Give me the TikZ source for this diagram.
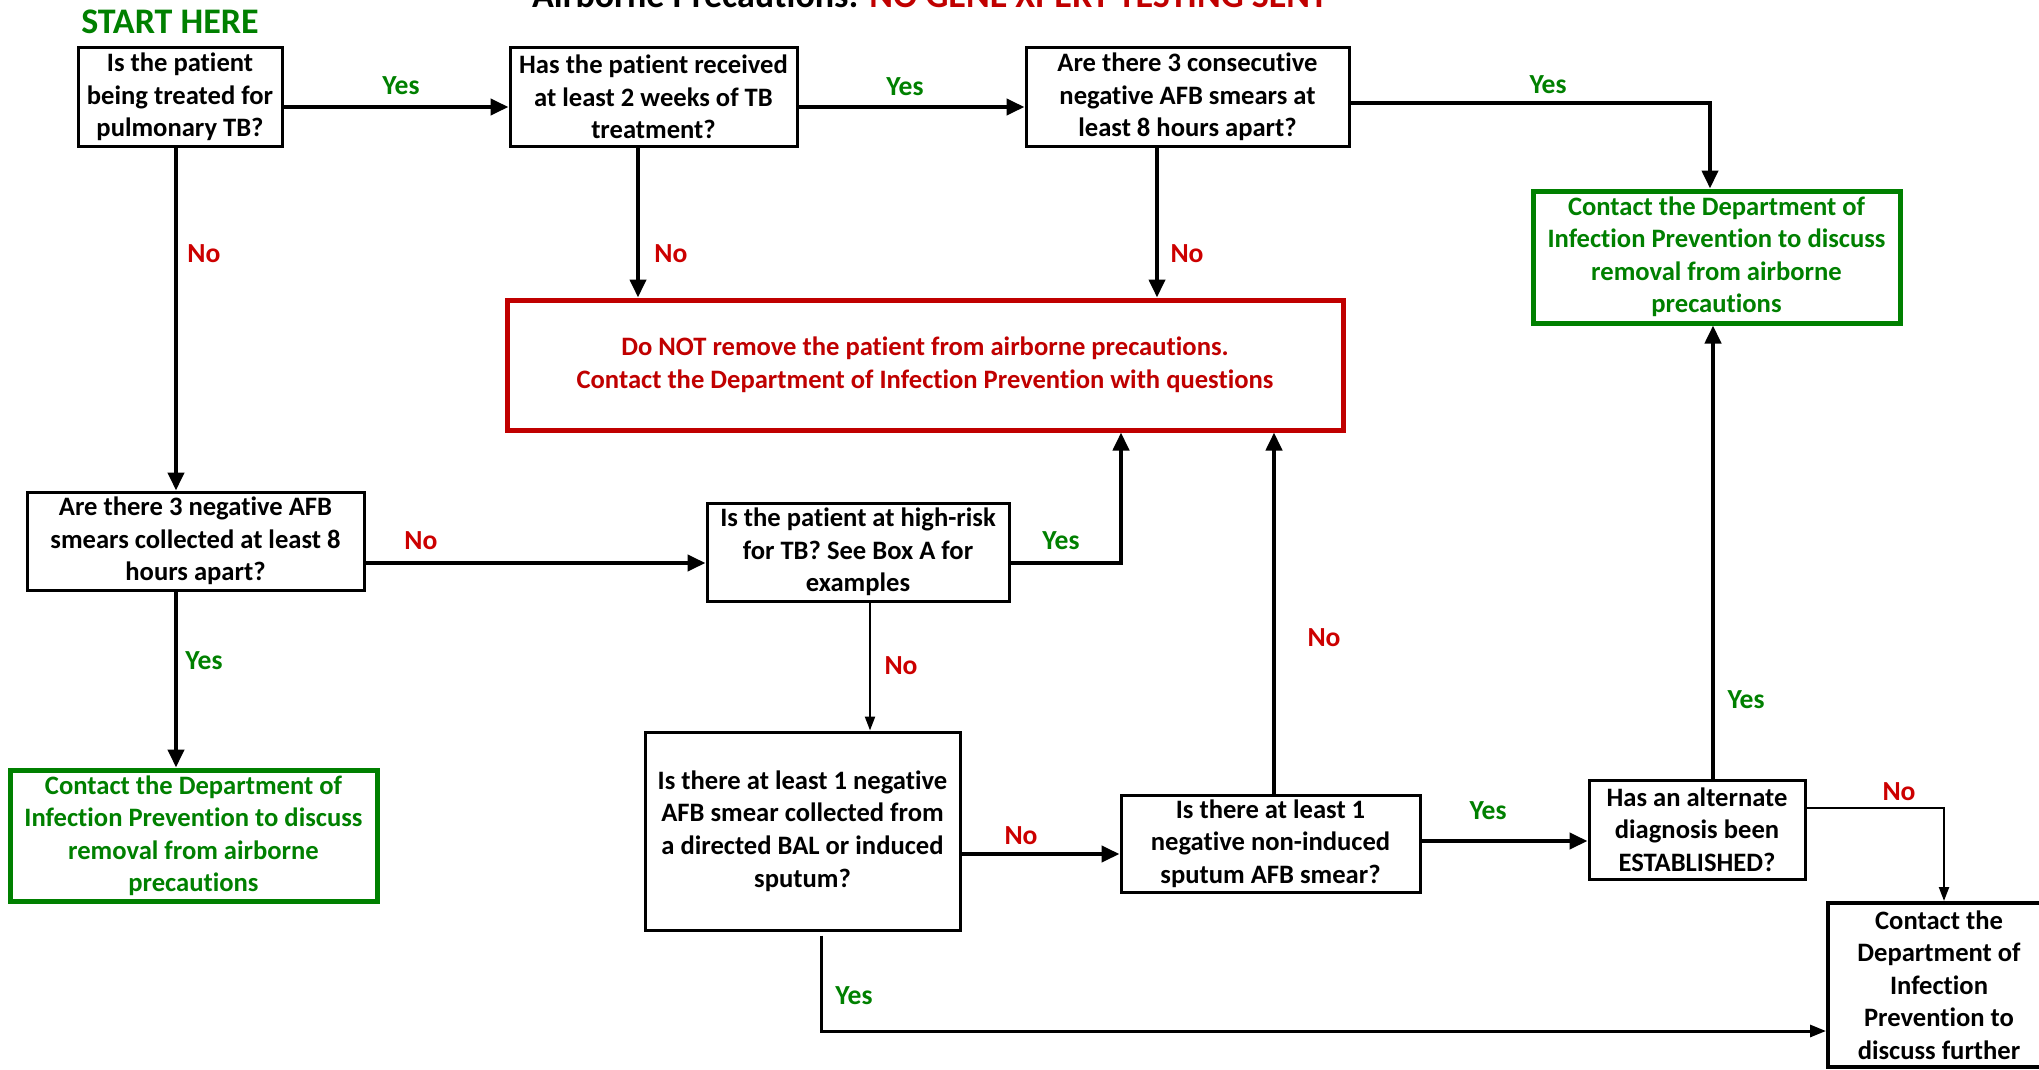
\documentclass[tikz,border=0pt]{standalone}
\usepackage{fontspec}
\setmainfont{Carlito}[Ligatures=NoCommon]
\usetikzlibrary{arrows.meta}
\definecolor{fgreen}{RGB}{0,128,0}
\definecolor{fred}{RGB}{192,0,0}
\definecolor{lred}{RGB}{204,0,0}
\begin{document}
\begin{tikzpicture}[x=0.5pt,y=-0.5pt,
  every node/.style={font=\bfseries\fontsize{13.3}{16.25}\selectfont, align=center, inner sep=0pt},
  qbox/.style={draw=black, line width=1.5pt, fill=white},
  gbox/.style={draw=fgreen, text=fgreen, line width=2.5pt, fill=white},
  rbox/.style={draw=fred, text=fred, line width=2.5pt, fill=white},
  thickarr/.style={line width=2pt, -{Triangle[length=9pt,width=8pt]}},
  thinarr/.style={line width=1.1pt, -{Triangle[length=7pt,width=5pt]}},
  medarr/.style={line width=1.5pt, -{Triangle[length=8pt,width=6pt]}},
  ylab/.style={text=fgreen, font=\bfseries\fontsize{13.8}{16.25}\selectfont},
  nlab/.style={text=lred, font=\bfseries\fontsize{13.8}{16.25}\selectfont}
]
\useasboundingbox (0,0) rectangle (2039,1070);

% title and start
\node[anchor=base, font=\bfseries\fontsize{18}{21}\selectfont] (title) at (930,8)
  {Airborne Precautions: \textcolor{fred}{NO GENE XPERT TESTING SENT}};
\node[anchor=base, text=fgreen, font=\bfseries\fontsize{18}{21}\selectfont] (start) at (170,34) {START HERE};

% boxes
\node[qbox, minimum width=102pt, minimum height=49pt] (b1) at (180,97)
  {Is the patient\\being treated for\\pulmonary TB?};
\node[qbox, minimum width=143.5pt, minimum height=49pt] (b2) at (653.5,97)
  {Has the patient received\\at least 2 weeks of TB\\treatment?};
\node[qbox, minimum width=161.5pt, minimum height=49pt] (b3) at (1187.5,97)
  {Are there 3 consecutive\\negative AFB smears at\\least 8 hours apart?};
\node[gbox, minimum width=183.5pt, minimum height=66pt] (g1) at (1716.5,257)
  {Contact the Department of\\Infection Prevention to discuss\\removal from airborne\\precautions};
\node[rbox, minimum width=418pt, minimum height=65pt] (r) at (925,365)
  {Do NOT remove the patient from airborne precautions.\\Contact the Department of Infection Prevention with questions};
\node[qbox, minimum width=168.5pt, minimum height=49pt] (b4) at (195.5,541)
  {Are there 3 negative AFB\\smears collected at least 8\\hours apart?};
\node[qbox, minimum width=151pt, minimum height=49pt] (b5) at (858,552)
  {Is the patient at high-risk\\for TB? See Box A for\\examples};
\node[gbox, minimum width=183.5pt, minimum height=65.5pt] (g2) at (193.5,835.5)
  {Contact the Department of\\Infection Prevention to discuss\\removal from airborne\\precautions};
\node[qbox, minimum width=157.5pt, minimum height=99pt] (b6) at (802.5,831)
  {Is there at least 1 negative\\AFB smear collected from\\a directed BAL or induced\\sputum?};
\node[qbox, minimum width=149.5pt, minimum height=48.5pt] (b7) at (1270.5,843.5)
  {Is there at least 1\\negative non-induced\\sputum AFB smear?};
\node[qbox, minimum width=108pt, minimum height=49.5pt] (b8) at (1697,829.5)
  {Has an alternate\\diagnosis been\\ESTABLISHED?};
\node[qbox, line width=2pt, minimum width=111pt, minimum height=82pt] (b9) at (1939,985)
  {Contact the\\Department of\\Infection\\Prevention to\\discuss further};

% connectors
\draw[thickarr] (b1.east |- 0,107) -- (b2.west |- 0,107);
\draw[thickarr] (b2.east |- 0,107) -- (b3.west |- 0,107);
\draw[thickarr] (b3.east |- 0,103) -| (g1.north -| 1710,0);
\draw[thickarr] (b1.south -| 176,0) -- (b4.north -| 176,0);
\draw[thickarr] (b2.south -| 638,0) -- (r.north -| 638,0);
\draw[thickarr] (b3.south -| 1157,0) -- (r.north -| 1157,0);
\draw[thickarr] (b4.east |- 0,563) -- (b5.west |- 0,563);
\draw[thickarr] (b4.south -| 176,0) -- (g2.north -| 176,0);
\draw[thickarr] (b5.east |- 0,563) -| (r.south -| 1121,0);
\draw[thinarr] (b5.south -| 870,0) -- (b6.north -| 870,0);
\draw[thickarr] (b6.east |- 0,854) -- (b7.west |- 0,854);
\draw[thickarr] (b7.north -| 1274,0) -- (r.south -| 1274,0);
\draw[thickarr] (b7.east |- 0,841) -- (b8.west |- 0,841);
\draw[thickarr] (b8.north -| 1713,0) -- (g1.south -| 1713,0);
\draw[thinarr] (b8.east |- 0,808) -| (b9.north -| 1944,0);
\draw[medarr] ([yshift=-2pt]b6.south -| 821,0) |- (b9.west |- 0,1031);

% labels
\node[ylab] (l1) at (401,86) {Yes};
\node[ylab] (l2) at (905,87) {Yes};
\node[ylab] (l3) at (1548,85) {Yes};
\node[nlab] (l4) at (204,254) {No};
\node[nlab] (l5) at (671,254) {No};
\node[nlab] (l6) at (1187,254) {No};
\node[nlab] (l7) at (421,541) {No};
\node[ylab] (l8) at (204,661) {Yes};
\node[ylab] (l9) at (1061,541) {Yes};
\node[nlab] (l10) at (901,666) {No};
\node[nlab] (l11) at (1021,836) {No};
\node[nlab] (l12) at (1324,638) {No};
\node[ylab] (l13) at (1488,811) {Yes};
\node[ylab] (l14) at (1746,700) {Yes};
\node[nlab] (l15) at (1899,792) {No};
\node[ylab] (l16) at (854,996) {Yes};
\end{tikzpicture}
\end{document}
